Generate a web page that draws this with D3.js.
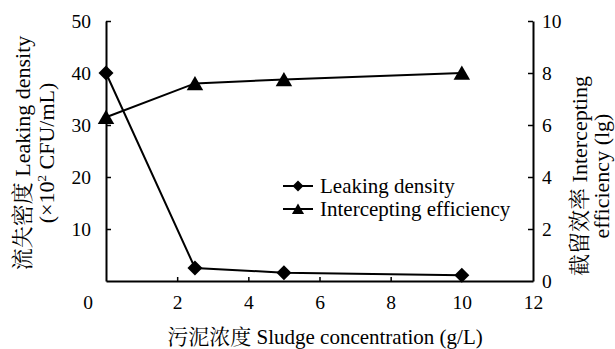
<!DOCTYPE html>
<html><head><meta charset="utf-8">
<script src="https://cdn.jsdelivr.net/npm/d3@7"></script>
<style>
body{margin:0;background:#fff;}
svg{display:block;}
</style></head>
<body><svg id="c" width="615" height="349"></svg>
<script>
const concentration = [0, 2.5, 5, 10];
const leakingDensity = [40, 2.5, 1.6, 1.1];
const interceptingEff = [6.3, 7.6, 7.75, 8.0];
const xTicks = [0, 2, 4, 6, 8, 10, 12];
const yLeftTicks = [10, 20, 30, 40, 50];
const yRightTicks = [0, 2, 4, 6, 8, 10];

const FONT = '"Liberation Serif", "Noto Serif CJK SC", serif';
const svg = d3.select("#c");
const L = 106, R = 533, T = 21, B = 281;
const x = d3.scaleLinear().domain([0, 12]).range([L, R]);
const yL = d3.scaleLinear().domain([0, 50]).range([B, T]);
const yR = d3.scaleLinear().domain([0, 10]).range([B, T]);
const fs = 19.5, tfs = 21, vfs = 22;

// axes
const gx = svg.append("g").attr("transform", `translate(0,${B})`)
  .call(d3.axisBottom(x).tickValues(xTicks).tickSizeInner(-4).tickSizeOuter(0).tickPadding(14).tickFormat(d3.format("d")));
gx.selectAll(".tick line").filter(d => d === 0 || d === 12).remove();
gx.selectAll(".tick text").filter(d => d === 0).attr("x", -18.5);

const gl = svg.append("g").attr("transform", `translate(${L},0)`)
  .call(d3.axisLeft(yL).tickValues(yLeftTicks).tickSizeInner(-5).tickSizeOuter(0).tickPadding(15));
const gr = svg.append("g").attr("transform", `translate(${R},0)`)
  .call(d3.axisRight(yR).tickValues(yRightTicks).tickSizeInner(-5).tickSizeOuter(0).tickPadding(9));
gr.selectAll(".tick line").filter(d => d === 0).remove();

svg.selectAll(".domain").attr("stroke", "#000").attr("stroke-width", 2);
svg.selectAll(".tick line").attr("stroke", "#000").attr("stroke-width", 1.5);
svg.selectAll(".tick text").attr("font-size", fs).attr("fill", "#000");

// markers
const diamond = s => `M0,${-s}L${s},0L0,${s}L${-s},0Z`;
const triangle = s => `M0,${-s}L${s * 1.1},${s * 0.9}L${-s * 1.1},${s * 0.9}Z`;

const leak = concentration.map((c, i) => [c, leakingDensity[i]]);
const eff = concentration.map((c, i) => [c, interceptingEff[i]]);

svg.append("path").datum(leak).attr("fill", "none").attr("stroke", "#000").attr("stroke-width", 2)
  .attr("d", d3.line().x(d => x(d[0])).y(d => yL(d[1])));
svg.append("path").datum(eff).attr("fill", "none").attr("stroke", "#000").attr("stroke-width", 2)
  .attr("d", d3.line().x(d => x(d[0])).y(d => yR(d[1])));

svg.selectAll(".dm").data(leak).join("path").attr("class", "dm")
  .attr("transform", d => `translate(${x(d[0])},${yL(d[1])})`).attr("d", diamond(7.5)).attr("fill", "#000");
svg.selectAll(".tr").data(eff).join("path").attr("class", "tr")
  .attr("transform", d => `translate(${x(d[0])},${yR(d[1])})`).attr("d", triangle(7.5)).attr("fill", "#000");

// legend
const legend = [
  {label: "Leaking density", shape: diamond(5.5)},
  {label: "Intercepting efficiency", shape: triangle(5.5)}
];
const lg = svg.append("g");
legend.forEach((d, i) => {
  const yy = 186 + i * 23;
  lg.append("line").attr("x1", 283).attr("x2", 313).attr("y1", yy).attr("y2", yy).attr("stroke", "#000").attr("stroke-width", 2);
  lg.append("path").attr("d", d.shape).attr("transform", `translate(298,${yy})`).attr("fill", "#000");
  lg.append("text").attr("x", 320).attr("y", yy).attr("dy", "0.35em").attr("font-size", tfs).text(d.label);
});

// axis titles
svg.append("text").attr("x", 325).attr("y", 344).attr("text-anchor", "middle").attr("font-size", tfs)
  .text("污泥浓度 Sludge concentration (g/L)");

const lt = svg.append("text").attr("transform", "translate(30,153) rotate(-90)").attr("text-anchor", "middle").attr("font-size", vfs);
lt.append("tspan").attr("x", 0).attr("dy", 0).text("流失密度 Leaking density");
lt.append("tspan").attr("x", 0).attr("dy", 24).text("(×10");
lt.append("tspan").attr("font-size", 13).attr("dy", -8).text("2");
lt.append("tspan").attr("dy", 8).text(" CFU/mL)");

const rt = svg.append("text").attr("transform", "translate(587,176) rotate(-90)").attr("text-anchor", "middle").attr("font-size", vfs);
rt.append("tspan").attr("x", 0).attr("dy", 0).text("截留效率 Intercepting");
rt.append("tspan").attr("x", 0).attr("dy", 22).text("efficiency (lg)");

svg.selectAll("g").attr("font-family", null);
svg.selectAll("text").style("font-family", FONT).style("fill", "#000");
</script></body></html>
